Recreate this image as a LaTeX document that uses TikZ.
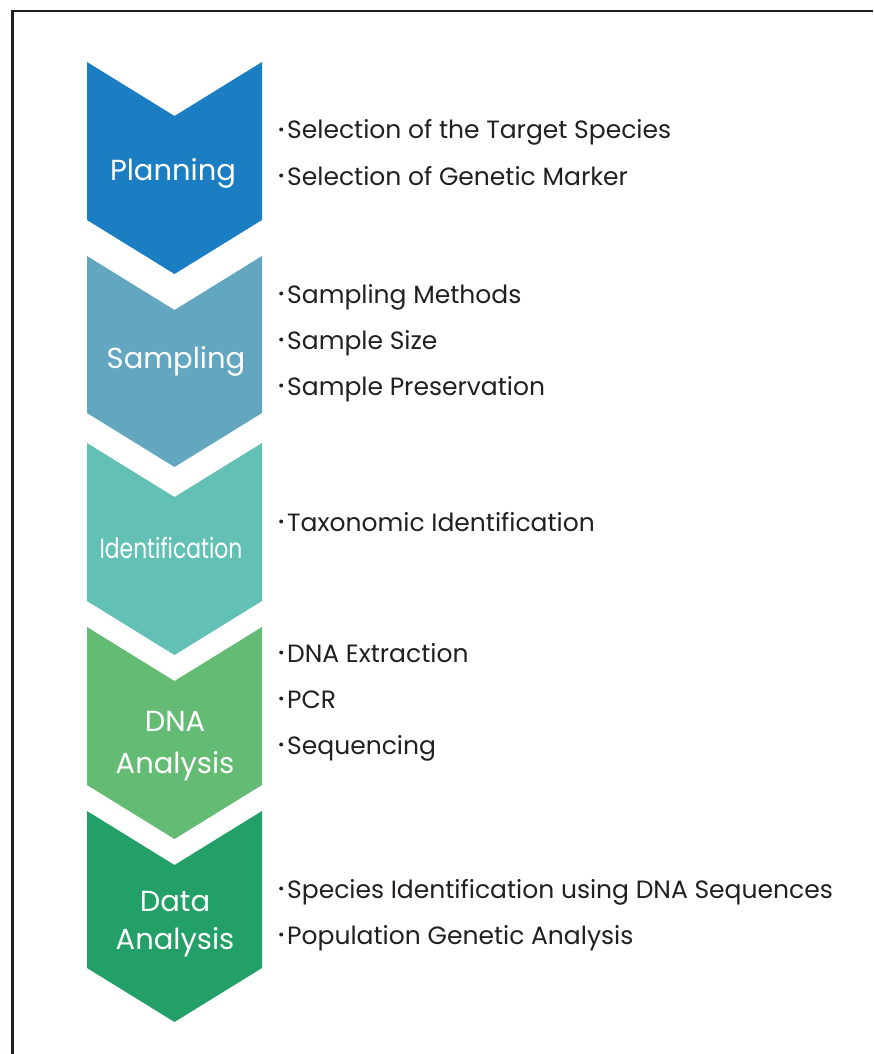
\documentclass[tikz,border=0pt]{standalone}
\usepackage{fontspec}
\setmainfont{Poppins}
\definecolor{framecol}{HTML}{231F20}
\definecolor{textcol}{HTML}{231F20}
\definecolor{cPlan}{HTML}{1B7EC2}
\definecolor{cSamp}{HTML}{62A7BF}
\definecolor{cIdent}{HTML}{62C1B4}
\definecolor{cDNA}{HTML}{64BB73}
\definecolor{cData}{HTML}{22A068}
\tikzset{
  steplabel/.style={text=white, font=\fontsize{29}{42}\selectfont, align=center, inner sep=0pt},
  itemtext/.style={text=textcol, font=\fontsize{25}{28}\selectfont, anchor=base west, inner sep=0pt},
}
\newcommand{\chevron}[3]{%
  \fill[#3] (87,#1) -- (174.5,{#1+54}) -- (262,#1) -- (262,#2) -- (174.5,{#2+54}) -- (87,#2) -- cycle;}
\newcommand{\blt}{\raisebox{0.3em}{\tikz\fill[textcol] (0,0) circle (2pt);}\hspace{4pt}}
\begin{document}
\begin{tikzpicture}[x=1pt,y=-1pt]
\useasboundingbox (0,0) rectangle (873,1054);
\draw[line width=2.4pt, framecol] (12.5,1054) -- (12.5,11) -- (873,11);
\chevron{62}{220}{cPlan}
\chevron{256}{413}{cSamp}
\chevron{443}{601}{cIdent}
\chevron{627}{785}{cDNA}
\chevron{811}{968}{cData}
\node[steplabel] (plan) at (173,173) {Planning};
\node[steplabel] (samp) at (176,361) {Sampling};
\node[steplabel] (ident) at (171,548) {\scalebox{0.78}[1]{\fontsize{28}{38}\selectfont Identification}};
\node[steplabel] (dna) at (175,746) {DNA\\Analysis};
\node[steplabel, font=\fontsize{29}{38}\selectfont] (data) at (175,924) {Data\\Analysis};
\node[itemtext] (p1) at (279,139) {\blt Selection of the Target Species};
\node[itemtext] (p2) at (279,185) {\blt Selection of Genetic Marker};
\node[itemtext] (s1) at (279,303) {\blt Sampling Methods};
\node[itemtext] (s2) at (279,349) {\blt Sample Size};
\node[itemtext] (s3) at (279,395) {\blt Sample Preservation};
\node[itemtext] (i1) at (279,531) {\blt Taxonomic Identification};
\node[itemtext] (d1) at (279,662) {\blt DNA Extraction};
\node[itemtext] (d2) at (279,708) {\blt PCR};
\node[itemtext] (d3) at (279,754) {\blt Sequencing};
\node[itemtext] (a1) at (279,898) {\blt Species Identification using DNA Sequences};
\node[itemtext] (a2) at (279,944) {\blt Population Genetic Analysis};
\end{tikzpicture}
\end{document}
